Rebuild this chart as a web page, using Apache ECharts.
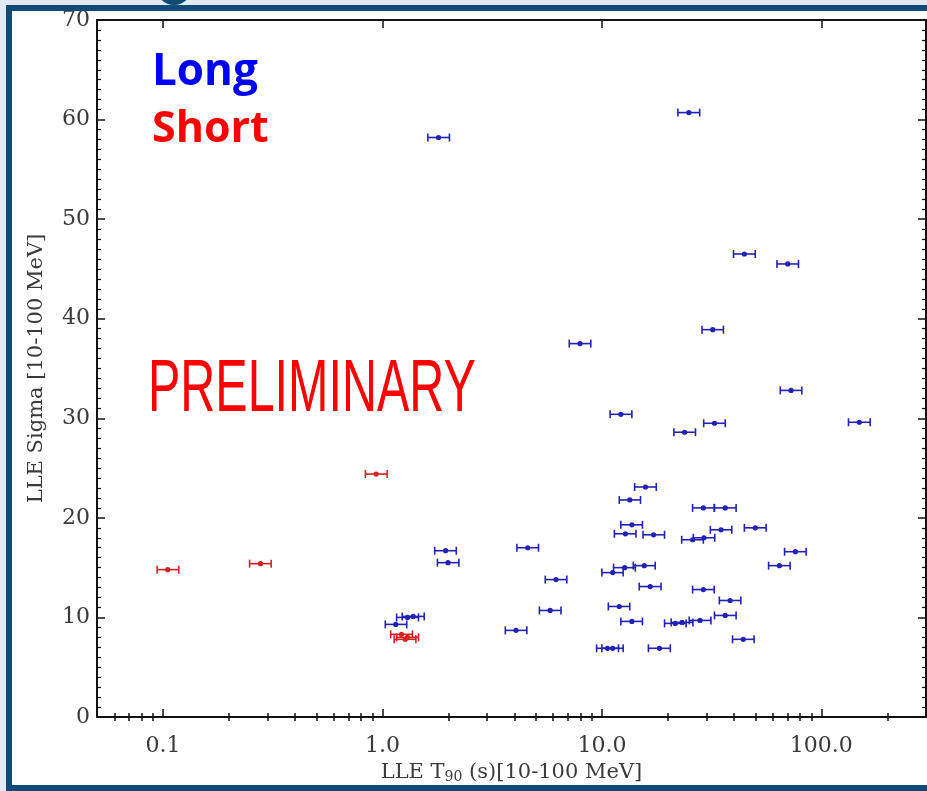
<!DOCTYPE html>
<html>
<head>
<meta charset="utf-8">
<script src="https://cdn.jsdelivr.net/npm/echarts@6/dist/echarts.min.js"></script>
<style>
  html, body { margin: 0; padding: 0; background: #ffffff; }
  #chart { width: 927px; height: 791px; }
</style>
</head>
<body>
<div id="chart"></div>
<script>
// LLE T90 vs LLE Sigma, both in the 10-100 MeV band.
// Long bursts: T90 [s], lower / upper T90 bounds, sigma
const longT90   = [24.9, 1.80, 44.6, 70.3, 32.0, 7.95, 72.8, 149, 12.2, 32.6, 23.8, 15.8, 13.4, 29.0, 36.5, 13.7, 34.9, 50.0, 12.8, 17.2, 25.9, 29.2, 1.94, 1.99, 4.59, 76.2, 64.4, 11.2, 12.7, 15.6, 6.18, 16.6, 29.0, 5.81, 12.0, 38.4, 36.5, 13.7, 21.6, 23.2, 28.0, 4.06, 44.1, 11.2, 10.6, 18.3, 1.30, 1.38, 1.15];
const longT90Lo = [22.2, 1.61, 39.8, 62.8, 28.6, 7.10, 65.0, 133, 10.9, 29.1, 21.3, 14.1, 12.0, 25.9, 32.6, 12.2, 31.2, 44.6, 11.4, 15.4, 23.1, 26.1, 1.73, 1.78, 4.10, 68.0, 57.5, 10.0, 11.3, 13.9, 5.52, 14.8, 25.9, 5.19, 10.7, 34.3, 32.6, 12.2, 19.3, 20.7, 25.0, 3.63, 39.4, 10.0, 9.46, 16.3, 1.16, 1.23, 1.03];
const longT90Hi = [27.9, 2.02, 50.0, 78.7, 35.8, 8.90, 81.5, 167, 13.7, 36.5, 26.7, 17.7, 15.0, 32.5, 40.9, 15.3, 39.1, 56.0, 14.3, 19.3, 29.0, 32.7, 2.17, 2.23, 5.14, 85.3, 72.1, 12.5, 14.2, 17.5, 6.92, 18.6, 32.5, 6.51, 13.4, 43.0, 40.9, 15.3, 24.2, 26.0, 31.4, 4.55, 49.4, 12.5, 11.9, 20.5, 1.46, 1.55, 1.29];
const longSigma = [60.7, 58.2, 46.5, 45.5, 38.9, 37.5, 32.8, 29.6, 30.4, 29.5, 28.6, 23.1, 21.8, 21.0, 21.0, 19.3, 18.8, 19.0, 18.4, 18.3, 17.8, 18.0, 16.7, 15.5, 17.0, 16.6, 15.2, 14.5, 15.0, 15.2, 13.8, 13.1, 12.8, 10.7, 11.1, 11.7, 10.2, 9.6, 9.4, 9.5, 9.7, 8.7, 7.8, 6.9, 6.9, 6.9, 10.0, 10.1, 9.3];

// Short bursts
const shortT90   = [0.105, 0.278, 0.936, 1.22, 1.30, 1.27];
const shortT90Lo = [0.094, 0.248, 0.836, 1.09, 1.16, 1.13];
const shortT90Hi = [0.118, 0.311, 1.05, 1.37, 1.46, 1.42];
const shortSigma = [14.8, 15.4, 24.4, 8.3, 8.0, 7.8];

// Axis ticks
const xMajorTicks = [0.1, 1, 10, 100];
const xMinorTicks = [0.06, 0.07, 0.08, 0.09, 0.2, 0.3, 0.4, 0.5, 0.6, 0.7, 0.8, 0.9, 2, 3, 4, 5, 6, 7, 8, 9, 20, 30, 40, 50, 60, 70, 80, 90, 200];
const xTickLabels = ['0.1', '1.0', '10.0', '100.0'];

const serifFont = '"DejaVu Serif", "Liberation Serif", serif';
const ink = '#111111';

function rows(t, lo, hi, s) {
  return t.map((v, i) => [v, s[i], lo[i], hi[i]]);
}

function renderErrorBar(params, api) {
  const y = api.value(1);
  const p = api.coord([api.value(0), y]);
  const a = api.coord([api.value(2), y]);
  const b = api.coord([api.value(3), y]);
  const color = api.visual('color');
  const cap = 4;
  const st = { stroke: color, lineWidth: 1.6 };
  return {
    type: 'group',
    children: [
      { type: 'line', shape: { x1: a[0], y1: a[1], x2: b[0], y2: b[1] }, style: st },
      { type: 'line', shape: { x1: a[0], y1: a[1] - cap, x2: a[0], y2: a[1] + cap }, style: st },
      { type: 'line', shape: { x1: b[0], y1: b[1] - cap, x2: b[0], y2: b[1] + cap }, style: st },
      { type: 'circle', shape: { cx: p[0], cy: p[1], r: 2.6 }, style: { fill: color } }
    ]
  };
}

function logAxis(position, ticks, len, opts) {
  return Object.assign({
    type: 'log',
    logBase: 10,
    min: 0.05,
    max: 300,
    position: position,
    gridIndex: 0,
    splitLine: { show: false },
    axisLine: { show: false },
    axisLabel: { show: false },
    axisTick: {
      show: true, inside: true, length: len, customValues: ticks,
      lineStyle: { color: ink, width: 1.5 }
    }
  }, opts || {});
}

function valAxis(position, opts) {
  return Object.assign({
    type: 'value',
    min: 0,
    max: 70,
    interval: 10,
    position: position,
    splitLine: { show: false },
    axisLine: { show: true, onZero: false, lineStyle: { color: ink, width: 2 } },
    axisTick: { show: true, inside: true, length: 8, lineStyle: { color: ink, width: 1.5 } },
    minorTick: { show: true, splitNumber: 10, length: 4, lineStyle: { color: ink, width: 1.2 } },
    axisLabel: { show: false }
  }, opts || {});
}

const chart = echarts.init(document.getElementById('chart'), null, { renderer: 'canvas' });

chart.setOption({
  backgroundColor: '#ffffff',
  animation: false,
  grid: { left: 97, right: 1, top: 20, bottom: 74, containLabel: false },
  xAxis: [
    logAxis('bottom', xMajorTicks, 8, {
      axisLine: { show: true, onZero: false, lineStyle: { color: ink, width: 2 } },
      axisLabel: {
        show: true, customValues: xMajorTicks, margin: 18,
        fontFamily: serifFont, fontSize: 22, color: '#3a3a3a',
        formatter: function (v) { return xTickLabels[xMajorTicks.indexOf(+v)] || ''; }
      },
      name: 'LLE T{sub|90} (s)[10-100 MeV]',
      nameLocation: 'middle',
      nameGap: 43,
      nameTextStyle: {
        fontFamily: serifFont, fontSize: 21, color: '#3a3a3a',
        rich: { sub: { fontFamily: serifFont, fontSize: 14, color: '#3a3a3a', verticalAlign: 'bottom', padding: [10, 0, 0, 0] } }
      }
    }),
    logAxis('bottom', xMinorTicks, 4),
    logAxis('top', xMajorTicks, 8, {
      axisLine: { show: true, onZero: false, lineStyle: { color: ink, width: 2 } }
    }),
    logAxis('top', xMinorTicks, 4)
  ],
  yAxis: [
    valAxis('left', {
      axisLabel: { show: true, margin: 7, fontFamily: serifFont, fontSize: 22, color: '#3a3a3a' },
      name: 'LLE Sigma [10-100 MeV]',
      nameLocation: 'middle',
      nameGap: 50,
      nameTextStyle: { fontFamily: serifFont, fontSize: 21, color: '#3a3a3a' }
    }),
    valAxis('right')
  ],
  series: [
    {
      name: 'Long',
      type: 'custom',
      xAxisIndex: 0,
      yAxisIndex: 0,
      renderItem: renderErrorBar,
      itemStyle: { color: '#2222b4' },
      encode: { x: [0, 2, 3], y: 1 },
      data: rows(longT90, longT90Lo, longT90Hi, longSigma),
      z: 3
    },
    {
      name: 'Short',
      type: 'custom',
      xAxisIndex: 0,
      yAxisIndex: 0,
      renderItem: renderErrorBar,
      itemStyle: { color: '#d42222' },
      encode: { x: [0, 2, 3], y: 1 },
      data: rows(shortT90, shortT90Lo, shortT90Hi, shortSigma),
      z: 3
    }
  ],
  graphic: [
    // slide frame
    { type: 'rect', silent: true, z: 0, shape: { x: 0, y: 0, width: 927, height: 5 }, style: { fill: '#dfeaf5' } },
    { type: 'rect', silent: true, z: 0, shape: { x: 0, y: 0, width: 6, height: 791 }, style: { fill: '#dfeaf5' } },
    { type: 'rect', silent: true, z: 1, shape: { x: 6, y: 5, width: 921, height: 6 }, style: { fill: '#114a76' } },
    { type: 'rect', silent: true, z: 1, shape: { x: 6, y: 5, width: 6, height: 786 }, style: { fill: '#114a76' } },
    { type: 'rect', silent: true, z: 1, shape: { x: 6, y: 785, width: 921, height: 6 }, style: { fill: '#114a76' } },
    { type: 'circle', silent: true, z: 1, shape: { cx: 174, cy: -13, r: 18 }, style: { fill: '#114a76' } },
    // legend words and watermark
    { type: 'text', silent: true, z: 10, left: 152, top: 50,
      style: { text: 'Long', fill: '#0000ff', font: 'bold 44px "Open Sans", "Lato", sans-serif' } },
    { type: 'text', silent: true, z: 10, left: 152, top: 108,
      style: { text: 'Short', fill: '#ff0000', font: 'bold 43px "Open Sans", "Lato", sans-serif' } },
    { type: 'text', silent: true, z: 10, x: 148, y: 391, scaleX: 0.655,
      style: { text: 'PRELIMINARY', fill: '#ff0000', font: '74px "Liberation Sans", "Roboto", sans-serif', verticalAlign: 'middle' } }
  ]
});
</script>
</body>
</html>
